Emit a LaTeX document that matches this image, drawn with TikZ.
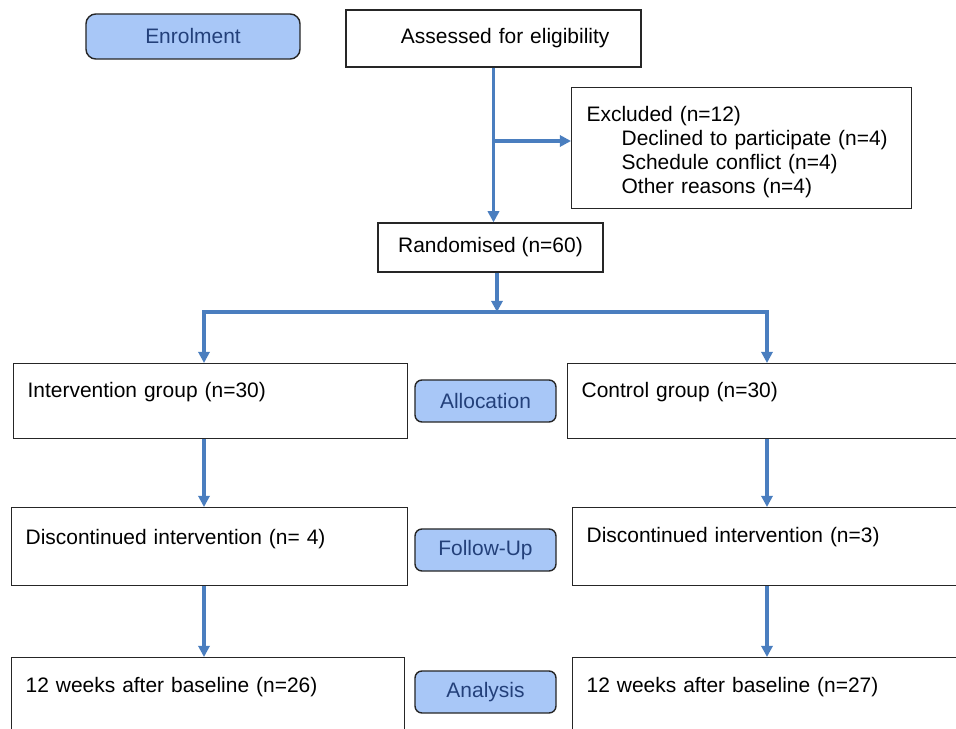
\documentclass[tikz,border=0pt]{standalone}
\usepackage{fontspec}
\setmainfont{Liberation Sans}
\usetikzlibrary{arrows.meta}

\definecolor{flowblue}{HTML}{4A7EBF}
\definecolor{phasefill}{HTML}{A8C7F7}
\definecolor{phasetext}{HTML}{23407A}
\definecolor{boxline}{HTML}{262626}

\tikzset{
  flow/.style={draw=flowblue, line width=2.5pt, -{Triangle[width=8pt,length=8pt]}},
  phase/.style={draw=boxline, line width=1pt, fill=phasefill, rounded corners=5pt,
    text=phasetext, minimum width=3.525cm, minimum height=1.05cm, inner sep=0pt},
  plainbox/.style={draw=boxline, line width=0.9pt, inner sep=0pt},
  groupbox/.style={draw=boxline, line width=0.9pt, anchor=north west, align=left,
    inner ysep=0pt, inner xsep=0.35cm},
}

\begin{document}
\begin{tikzpicture}[x=0.025cm, y=-0.025cm, font=\fontsize{14.9}{17}\selectfont]
% picture frame, 956 x 729
\useasboundingbox (0,0) rectangle (956,729);
\clip (0,0) rectangle (956,729);

% Drawing enrolment part
\node[phase, rounded corners=7pt, minimum width=5.35cm, minimum height=1.125cm] (enrol) at (193,36.5) {Enrolment};
\node[plainbox, text width=7.375cm, align=left, minimum height=1.425cm] (assess) at (493.5,38.5) {\hspace*{1.375cm}Assessed for eligibility};
\node[groupbox, inner xsep=0.375cm, text width=7.75cm, text height=0.85cm, text depth=2.175cm] (excl) at (571,87)
  {Excluded (n=12)\\
   \hspace*{0.875cm}Declined to participate (n=4)\\
   \hspace*{0.875cm}Schedule conflict (n=4)\\
   \hspace*{0.875cm}Other reasons (n=4)};
\node[plainbox, minimum width=5.625cm, minimum height=1.225cm] (rand) at (490.5,247.5) {Randomised (n=60)};

\coordinate (excljoin) at (493.5,141);
\draw[flow] (assess.south) -- (assess.south |- rand.north);
\draw[flow] (excljoin) -- (excl.west |- excljoin);

% Drawing allocation part
\coordinate (split) at (497,312);
\coordinate (splitL) at (204,312);
\coordinate (splitR) at (767,312);
\node[groupbox, text width=9.15cm, text height=0.85cm, text depth=1.025cm] (interv) at (13,363) {Intervention group (n=30)};
\node[phase] (alloc) at (485.5,401) {Allocation};
\node[groupbox, text width=9.5cm, text height=0.85cm, text depth=1.025cm] (control) at (567,363) {Control group (n=30)};

\draw[flow] (rand.south -| split) -- (split);
\draw[flow] (split) -| (splitL |- interv.north);
\draw[flow] (split) -| (splitR |- control.north);

% Drawing follow-up part
\node[groupbox, text width=9.2cm, text height=0.925cm, text depth=1.025cm] (discL) at (11,507) {Discontinued intervention (n= 4)};
\node[phase] (follow) at (485.5,550) {Follow-Up};
\node[groupbox, text width=9.375cm, text height=0.875cm, text depth=1.075cm] (discR) at (572,507) {Discontinued intervention (n=3)};

\draw[flow] (interv.south -| splitL) -- (discL.north -| splitL);
\draw[flow] (control.south -| splitR) -- (discR.north -| splitR);

% Drawing analysis part
\node[groupbox, text width=9.125cm, text height=0.875cm, text depth=1.325cm] (endL) at (11,657) {12 weeks after baseline (n=26)};
\node[phase] (anal) at (485.5,692) {Analysis};
\node[groupbox, text width=9.375cm, text height=0.875cm, text depth=1.325cm] (endR) at (572,657) {12 weeks after baseline (n=27)};

\draw[flow] (discL.south -| splitL) -- (endL.north -| splitL);
\draw[flow] (discR.south -| splitR) -- (endR.north -| splitR);
\end{tikzpicture}
\end{document}
